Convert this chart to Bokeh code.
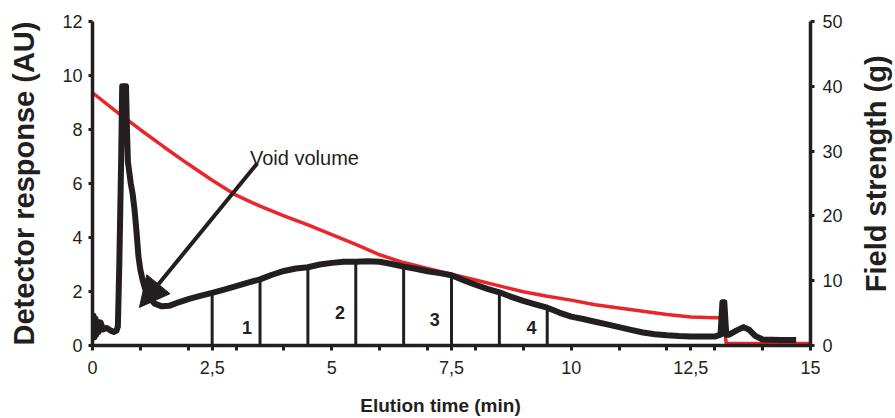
import math

from bokeh.embed import file_html
from bokeh.layouts import column, row
from bokeh.models import (Arrow, ColumnDataSource, CustomJSTickFormatter, FixedTicker,
                          Label, LinearAxis, NormalHead, Range1d)
from bokeh.plotting import figure
from bokeh.resources import INLINE

# Detector trace: elution time (min) vs detector response (AU)
det_time = [0.0, 0.02, 0.04, 0.06, 0.08, 0.1, 0.13, 0.17, 0.22, 0.3, 0.38, 0.45, 0.5, 0.53,
            0.56, 0.6, 0.62, 0.7, 0.72, 0.74, 0.8, 0.84, 0.88, 0.92, 0.96, 1.0, 1.05, 1.1,
            1.2, 1.3, 1.45, 1.6, 1.8, 2.0, 2.25, 2.5, 2.75, 3.0, 3.25, 3.5, 3.75, 4.0,
            4.25, 4.5, 4.75, 5.0, 5.25, 5.5, 5.75, 6.0, 6.25, 6.5, 6.75, 7.0, 7.25, 7.5,
            7.75, 8.0, 8.25, 8.5, 8.75, 9.0, 9.25, 9.5, 9.75, 10.0, 10.25, 10.5, 10.75,
            11.0, 11.25, 11.5, 11.75, 12.0, 12.25, 12.5, 12.75, 13.0, 13.12, 13.16, 13.2,
            13.24, 13.3, 13.45, 13.6, 13.72, 13.85, 14.0, 14.4, 14.7]
det_au = [0.2, 1.1, 0.3, 1.0, 0.4, 0.9, 0.5, 0.85, 0.6, 0.65, 0.55, 0.5, 0.55, 0.7,
          3.0, 7.0, 9.6, 9.6, 8.0, 6.8, 6.0, 5.6, 5.0, 4.2, 3.3, 2.8, 2.4, 2.1,
          1.75, 1.55, 1.45, 1.47, 1.6, 1.72, 1.84, 1.95, 2.07, 2.2, 2.33, 2.45, 2.62, 2.76,
          2.85, 2.9, 3.0, 3.06, 3.1, 3.1, 3.12, 3.1, 3.02, 2.92, 2.84, 2.75, 2.68, 2.6,
          2.42, 2.25, 2.1, 1.97, 1.8, 1.65, 1.52, 1.4, 1.22, 1.07, 0.98, 0.88, 0.78,
          0.68, 0.58, 0.48, 0.42, 0.38, 0.35, 0.33, 0.33, 0.33, 0.4, 1.6, 1.6,
          0.4, 0.4, 0.55, 0.68, 0.58, 0.35, 0.22, 0.2, 0.2]

# Field strength programme (g)
field_time = [0.0, 0.5, 1.0, 1.5, 2.0, 2.5, 3.0, 3.5, 4.0, 4.5, 5.0, 5.5, 6.0, 6.5, 7.0,
              7.5, 8.0, 8.5, 9.0, 9.5, 10.0, 10.5, 11.0, 11.5, 12.0, 12.5, 13.0, 13.17,
              13.24, 15.0]
field_g = [39.0, 36.1, 33.3, 30.6, 28.0, 25.5, 23.2, 21.5, 20.0, 18.6, 17.1, 15.6, 14.0,
           12.8, 11.9, 11.0, 10.1, 9.2, 8.3, 7.6, 7.0, 6.3, 5.8, 5.3, 4.8, 4.4, 4.3, 4.3,
           0.3, 0.3]

# Fraction cuts and fraction numbers
cut_times = [2.5, 3.5, 4.5, 5.5, 6.5, 7.5, 8.5, 9.5]
cut_heights = [1.95, 2.45, 2.9, 3.1, 2.92, 2.6, 1.97, 1.4]
fraction_names = ["1", "2", "3", "4"]
fraction_x = [3.23, 5.17, 7.15, 9.17]
fraction_y = [0.67, 1.22, 0.96, 0.67]

# Void volume annotation (tail -> head, in time / AU)
void_tail = (3.44, 6.74)
void_head = (0.98, 1.41)
void_text = "Void volume"

x_label_ticks = [0, 2.5, 5, 7.5, 10, 12.5, 15]
x_minor_ticks = [1, 2, 3, 4, 6, 7, 8, 9, 11, 12, 13, 14]
left_ticks = [0, 2, 4, 6, 8, 10, 12]
right_ticks = [0, 10, 20, 30, 40, 50]

INK = "#231f20"
RED = "#e8262b"
FONT = "Liberation Sans"

# Main chart panel
p = figure(width=845, height=392, output_backend="svg", toolbar_location=None,
           x_range=Range1d(0, 15), y_range=Range1d(0, 12),
           min_border_left=92, min_border_right=33, min_border_top=21,
           min_border_bottom=47, x_axis_location=None, y_axis_location=None)
p.outline_line_color = None
p.grid.visible = False
p.extra_y_ranges = {"field": Range1d(0, 50)}


def style_axis(ax, tick_out):
    ax.axis_line_color = INK
    ax.axis_line_width = 3.5
    ax.major_tick_line_color = INK
    ax.major_tick_line_width = 3
    ax.major_tick_in = 0
    ax.major_tick_out = tick_out
    ax.minor_tick_line_color = INK
    ax.minor_tick_line_width = 3
    ax.minor_tick_in = 0
    ax.minor_tick_out = tick_out
    ax.major_label_text_font = FONT
    ax.major_label_text_font_size = "18px"
    ax.major_label_text_color = INK
    ax.axis_label_text_font = FONT
    ax.axis_label_text_font_style = "bold"
    ax.axis_label_text_color = INK


xaxis = LinearAxis(ticker=FixedTicker(ticks=x_label_ticks, minor_ticks=x_minor_ticks),
                   formatter=CustomJSTickFormatter(code="return String(tick).replace('.', ',');"))
style_axis(xaxis, 5)
xaxis.major_label_standoff = 10
p.add_layout(xaxis, "below")

yaxis = LinearAxis(ticker=FixedTicker(ticks=left_ticks), axis_label="Detector response (AU)")
style_axis(yaxis, 4)
yaxis.major_label_standoff = 6
yaxis.axis_label_text_font_size = "29px"
yaxis.axis_label_standoff = 19
p.add_layout(yaxis, "left")

raxis = LinearAxis(y_range_name="field", ticker=FixedTicker(ticks=right_ticks))
style_axis(raxis, 4)
raxis.major_label_standoff = 8
p.add_layout(raxis, "right")

# Field strength curve
p.line(field_time, field_g, y_range_name="field", line_color=RED, line_width=3.5)

# Detector response
p.line(det_time, det_au, line_color=INK, line_width=6, line_join="round")

# Fraction cuts
cuts = ColumnDataSource(dict(x=cut_times, y0=[0] * len(cut_times), y1=cut_heights))
p.segment(x0="x", y0="y0", x1="x", y1="y1", source=cuts, line_color=INK, line_width=3)

frac = ColumnDataSource(dict(x=fraction_x, y=fraction_y, t=fraction_names))
p.text(x="x", y="y", text="t", source=frac, text_align="center", text_baseline="middle",
       text_font_size="18px", text_font_style="bold", text_color=INK,
       text_font={"value": FONT})

# Void volume arrow and its label
p.add_layout(Arrow(x_start=void_tail[0], y_start=void_tail[1],
                   x_end=void_head[0], y_end=void_head[1],
                   line_color=INK, line_width=4,
                   end=NormalHead(size=30, fill_color=INK, line_color=INK, line_width=1)))
p.add_layout(Label(x=3.29, y=6.95, text=void_text, text_font=FONT, text_font_size="20px",
                   text_color=INK, text_baseline="alphabetic", text_align="left"))


def text_strip(width, height):
    f = figure(width=width, height=height, output_backend="svg", toolbar_location=None,
               x_range=Range1d(0, 1), y_range=Range1d(0, 1), min_border=0,
               x_axis_location=None, y_axis_location=None)
    f.outline_line_color = None
    f.grid.visible = False
    return f


# Right-hand title strip (reads bottom to top)
side = text_strip(50, 392)
side.add_layout(Label(x=0.6, y=0.53, text="Field strength (g)", angle=math.pi / 2,
                      text_align="center", text_baseline="middle", text_font=FONT,
                      text_font_size="29px", text_font_style="bold", text_color=INK))

# Bottom title strip
bottom = text_strip(895, 26)
bottom.add_layout(Label(x=440 / 895, y=0.5, text="Elution time (min)", text_align="center",
                        text_baseline="middle", text_font=FONT, text_font_size="19px",
                        text_font_style="bold", text_color=INK))

layout = column(row(p, side, spacing=0), bottom, spacing=0)
open("out.html", "w").write(file_html(layout, INLINE))
